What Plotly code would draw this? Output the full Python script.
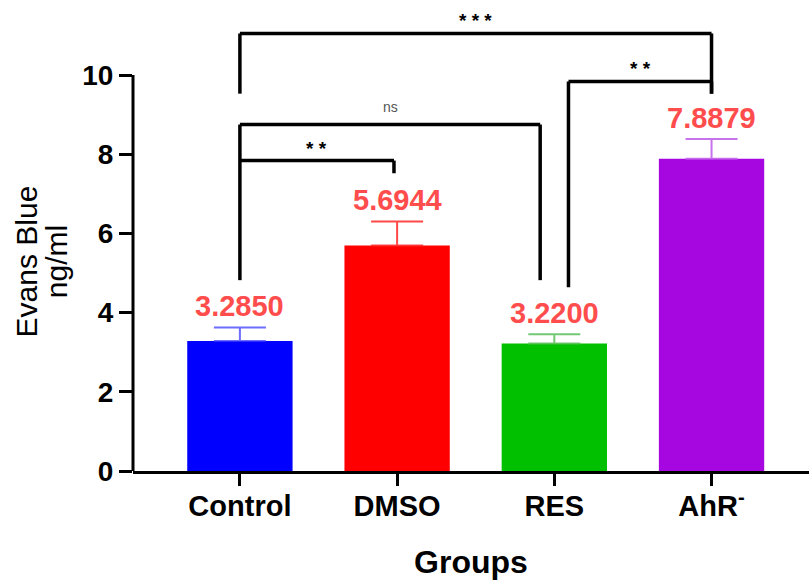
import plotly.graph_objects as go

# ---- data ----
groups = ["Control", "DMSO", "RES", "AhR<sup>-</sup>"]
means = [3.2850, 5.6944, 3.2200, 7.8879]
errors = [0.34, 0.61, 0.235, 0.50]
value_labels = ["3.2850", "5.6944", "3.2200", "7.8879"]
y_title_lines = ["Evans Blue", "ng/ml"]
x_title = "Groups"
bar_colors = ["#0000ff", "#ff0000", "#00c000", "#a606e0"]
err_colors = ["rgba(60,60,255,0.75)", "rgba(255,40,40,0.85)", "rgba(90,190,90,0.85)", "rgba(190,90,235,0.85)"]

# significance comparisons: (left x, right x, top, left leg bottom, right leg bottom, label)
sig_brackets = [
    (0.0, 3.0, 11.05, 9.53, 9.53, "* * *"),
    (2.09, 3.0, 9.84, 4.64, 9.53, "* *"),
    (0.0, 1.91, 8.75, 4.82, 4.82, "ns"),
    (0.0, 0.98, 7.84, 7.84, 7.52, "* *"),
]

xpos = list(range(len(groups)))
FONT = "Liberation Sans, Arial, sans-serif"

fig = go.Figure()
for i in xpos:
    fig.add_trace(go.Bar(
        x=[xpos[i]], y=[means[i]], width=0.67,
        marker=dict(color=bar_colors[i], line=dict(width=0)),
        error_y=dict(type="data", symmetric=False, array=[errors[i]], arrayminus=[0],
                     color=err_colors[i], thickness=2, width=26),
        showlegend=False, hoverinfo="skip",
    ))

shapes = []
annotations = []
# value labels
for i in xpos:
    annotations.append(dict(
        x=xpos[i], y=means[i] + errors[i], xref="x", yref="y",
        text=value_labels[i], showarrow=False, yanchor="bottom", yshift=3,
        font=dict(family=FONT, size=29, color="#ff4d4d", weight="bold"),
    ))

# brackets
for (x0, x1, top, lb, rb, lab) in sig_brackets:
    lw = 3.5
    shapes.append(dict(type="line", xref="x", yref="y", x0=x0, x1=x1, y0=top, y1=top,
                       line=dict(color="black", width=lw)))
    shapes.append(dict(type="line", xref="x", yref="y", x0=x0, x1=x0, y0=top, y1=lb,
                       line=dict(color="black", width=lw)))
    shapes.append(dict(type="line", xref="x", yref="y", x0=x1, x1=x1, y0=top, y1=rb,
                       line=dict(color="black", width=lw)))
    if lab == "ns":
        annotations.append(dict(x=(x0 + x1) / 2, y=top, xref="x", yref="y", text=lab,
                                showarrow=False, yanchor="bottom", yshift=8,
                                font=dict(family=FONT, size=14, color="#555555")))
    else:
        annotations.append(dict(x=(x0 + x1) / 2, y=top, xref="x", yref="y", text=lab,
                                showarrow=False, yanchor="bottom", yshift=0,
                                font=dict(family=FONT, size=19, color="black", weight="bold")))

# y-axis title as two rotated lines (tight line spacing)
for txt, xp in zip(y_title_lines, [-0.157, -0.113]):
    annotations.append(dict(x=xp, y=5.29, xref="paper", yref="y", text=txt, textangle=-90,
                            showarrow=False, xanchor="center", yanchor="middle",
                            font=dict(family=FONT, size=30, color="black")))

# y axis line only from 0 to 10
shapes.append(dict(type="line", xref="paper", yref="y", x0=0, x1=0, y0=0, y1=10,
                   line=dict(color="black", width=3)))

fig.update_layout(
    width=809, height=580,
    margin=dict(l=133, r=0, t=3, b=109),
    paper_bgcolor="white", plot_bgcolor="white",
    shapes=shapes, annotations=annotations,
    bargap=0.3,
    xaxis=dict(
        range=[-0.68, 3.62], tickmode="array", tickvals=xpos, ticktext=groups,
        automargin=False,
        showline=True, linecolor="black", linewidth=3, ticks="outside", ticklen=12,
        tickwidth=3, tickcolor="black", showgrid=False, zeroline=False,
        ticklabelstandoff=-5,
        tickfont=dict(family=FONT, size=29, color="black", weight="bold"),
        title=dict(text=x_title, font=dict(family=FONT, size=32, color="black", weight="bold"),
                   standoff=30),
    ),
    yaxis=dict(
        range=[0, 11.82], tickmode="array", tickvals=[0, 2, 4, 6, 8, 10],
        automargin=False,
        showline=False, ticks="outside", ticklen=13, tickwidth=3, tickcolor="black",
        showgrid=False, zeroline=False,
        tickfont=dict(family=FONT, size=28, color="black", weight="bold"),
    ),
)

fig.write_html("out.html", post_script="document.body.style.margin='0';",
               config={"displayModeBar": False})
